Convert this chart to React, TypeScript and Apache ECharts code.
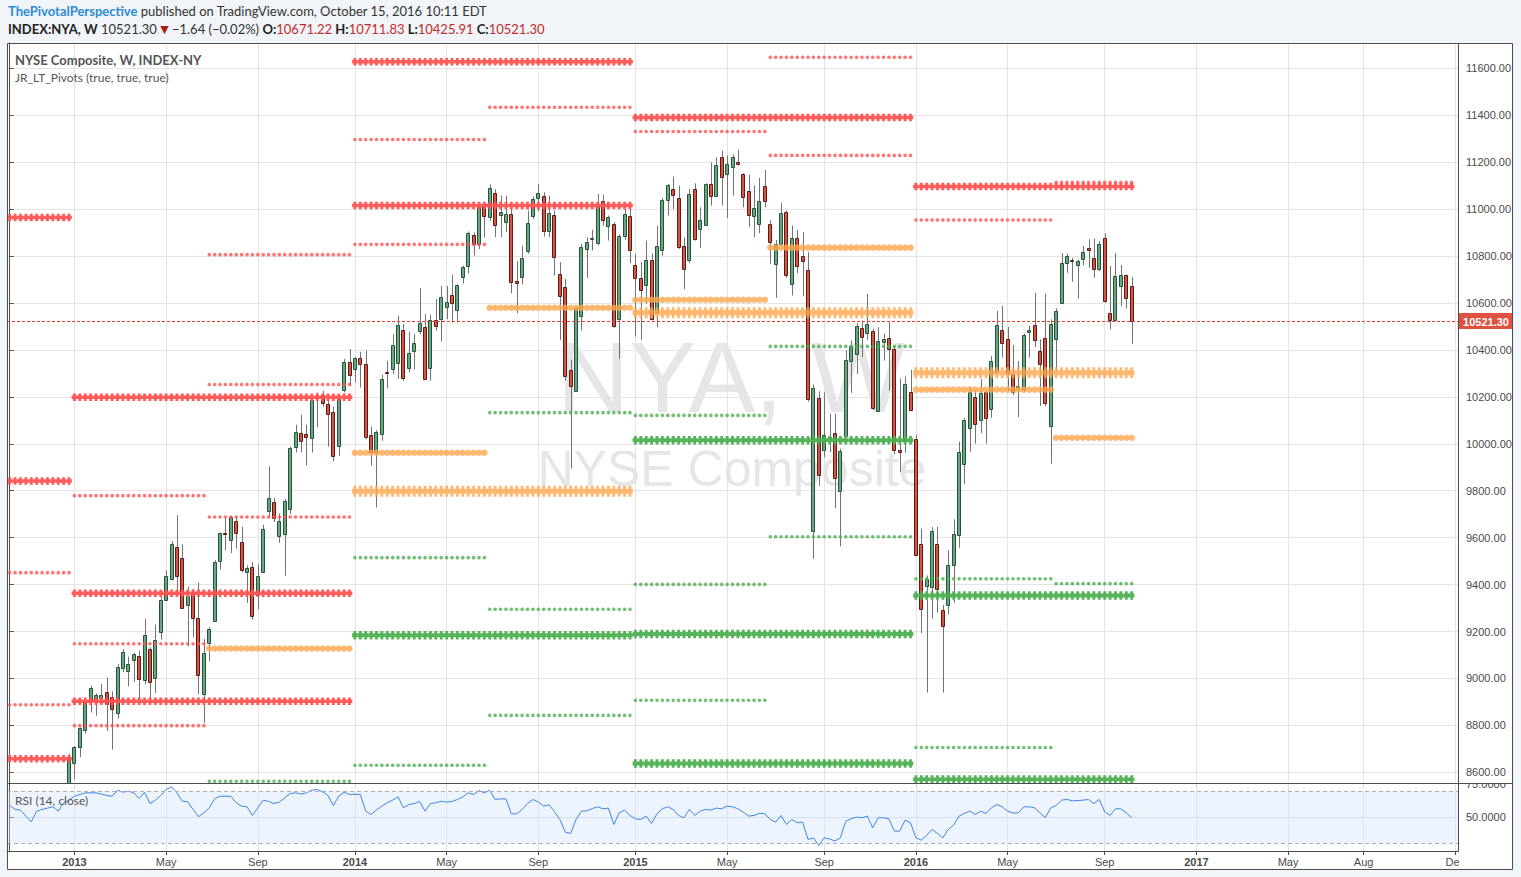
import React, { useEffect, useRef } from 'react';
import * as echarts from 'echarts';

// ---------- data ----------
const START_WEEK = '2012-10-15';
const WEEK_COUNT = 269;
const CANDLE_START = '2012-12-31';
// weekly [open, high, low, close]
const CANDLES: number[][] = [
  [8443, 8680, 8420, 8665], [8640, 8712, 8570, 8708], [8709, 8791, 8665, 8788], [8779, 8905, 8765, 8899],
  [8906, 8969, 8855, 8959], [8903, 8936, 8841, 8929], [8916, 8976, 8898, 8929], [8942, 9003, 8776, 8891],
  [8920, 8945, 8697, 8868], [8852, 9062, 8829, 9049], [9044, 9126, 9026, 9113], [9034, 9093, 8966, 9062],
  [9079, 9109, 8986, 9104], [9096, 9119, 8905, 8997], [8993, 9255, 8975, 9186], [9126, 9133, 8888, 8987],
  [9000, 9230, 8938, 9164], [9198, 9367, 9166, 9335], [9335, 9461, 9330, 9438], [9425, 9585, 9418, 9575],
  [9562, 9696, 9375, 9436], [9515, 9572, 9297, 9301], [9312, 9392, 9137, 9352], [9370, 9382, 9176, 9258],
  [9258, 9409, 8933, 9015], [8933, 9168, 8811, 9109], [9150, 9218, 9073, 9211], [9245, 9504, 9240, 9498],
  [9502, 9622, 9464, 9618], [9622, 9682, 9546, 9618], [9592, 9692, 9535, 9686], [9669, 9689, 9553, 9622],
  [9583, 9646, 9452, 9464], [9452, 9482, 9322, 9472], [9476, 9496, 9250, 9267], [9357, 9486, 9295, 9438],
  [9455, 9655, 9452, 9635], [9714, 9904, 9689, 9767], [9754, 9770, 9667, 9682], [9609, 9703, 9578, 9673],
  [9616, 9765, 9438, 9757], [9722, 9988, 9701, 9982], [9985, 10081, 9963, 10050], [10046, 10124, 9963, 10010],
  [10041, 10081, 9907, 10027], [10023, 10195, 9963, 10186], [10195, 10219, 10070, 10201], [10209, 10226, 10158, 10176],
  [10169, 10191, 9988, 10127], [10137, 10158, 9925, 9949], [9992, 10212, 9949, 10191], [10229, 10361, 10219, 10348],
  [10348, 10404, 10247, 10293], [10318, 10371, 10262, 10365], [10365, 10392, 10240, 10340], [10340, 10397, 10020, 10027],
  [10037, 10073, 9907, 9963], [9963, 10058, 9729, 10050], [10041, 10294, 10013, 10276], [10306, 10354, 10236, 10300],
  [10318, 10467, 10297, 10421], [10343, 10546, 10276, 10506], [10484, 10510, 10269, 10279], [10321, 10477, 10304, 10386],
  [10395, 10467, 10318, 10429], [10480, 10663, 10467, 10513], [10499, 10553, 10272, 10276], [10325, 10550, 10269, 10527],
  [10527, 10617, 10482, 10500], [10531, 10673, 10436, 10624], [10581, 10673, 10531, 10604], [10634, 10720, 10517, 10598],
  [10570, 10680, 10517, 10676], [10709, 10759, 10683, 10752], [10756, 10905, 10726, 10898], [10889, 10901, 10801, 10851],
  [10851, 11018, 10830, 11011], [11014, 11021, 10879, 10969], [10966, 11106, 10950, 11090], [11070, 11085, 10881, 10934],
  [10977, 11058, 10880, 10987], [10944, 11058, 10902, 10980], [10980, 11008, 10642, 10689], [10692, 10778, 10557, 10685],
  [10710, 10845, 10679, 10792], [10821, 10994, 10810, 10942], [10970, 11054, 10959, 11044], [11047, 11108, 10991, 11069],
  [11055, 11072, 10883, 10906], [10906, 11058, 10880, 10984], [10976, 10994, 10717, 10795], [10724, 10774, 10443, 10631],
  [10670, 10703, 10270, 10291], [10315, 10358, 9894, 10246], [10227, 10585, 10225, 10580], [10545, 10852, 10483, 10839],
  [10831, 10880, 10707, 10861], [10872, 10912, 10824, 10878], [10856, 11065, 10845, 11022], [11034, 11062, 10929, 10952],
  [10930, 10973, 10866, 10966], [10937, 10944, 10494, 10500], [10533, 10892, 10362, 10885], [10885, 11008, 10869, 10980],
  [10970, 11001, 10770, 10827], [10763, 10810, 10457, 10707], [10707, 10774, 10443, 10656], [10677, 10866, 10597, 10784],
  [10784, 10812, 10526, 10533], [10561, 10930, 10497, 10842], [10827, 11048, 10802, 11040], [11040, 11108, 10973, 11103],
  [11086, 11139, 11001, 11061], [11048, 11101, 10831, 10838], [10844, 10880, 10659, 10746], [10784, 11086, 10770, 11065],
  [11086, 11110, 10866, 10873], [10916, 11008, 10835, 10952], [10933, 11110, 10929, 11108], [11108, 11199, 11015, 11057],
  [11057, 11221, 11051, 11190], [11224, 11250, 11015, 11139], [11150, 11228, 10963, 11193], [11179, 11233, 11058, 11224],
  [11200, 11253, 11186, 11193], [11150, 11153, 11008, 11051], [11079, 11147, 10923, 10974], [10971, 11101, 10880, 11005],
  [10937, 11133, 10898, 11034], [11099, 11167, 11008, 11034], [10937, 10952, 10767, 10859], [10767, 10869, 10622, 10852],
  [10852, 11028, 10844, 10984], [10988, 10994, 10707, 10720], [10682, 10930, 10632, 10878], [10878, 10912, 10727, 10758],
  [10801, 10902, 10629, 10778], [10741, 10817, 10180, 10192], [9628, 10253, 9510, 10239], [10196, 10224, 9821, 9868],
  [9972, 10220, 9943, 10037], [10023, 10128, 9965, 10031], [10047, 10128, 9726, 9855], [9798, 9979, 9563, 9970],
  [10033, 10398, 10031, 10359], [10352, 10440, 10217, 10418], [10383, 10514, 10298, 10503], [10494, 10525, 10369, 10455],
  [10474, 10639, 10443, 10511], [10480, 10490, 10145, 10153], [10139, 10497, 10139, 10437], [10432, 10469, 10355, 10447],
  [10450, 10521, 10227, 10405], [10405, 10412, 9955, 9975], [9975, 10277, 9879, 9965], [10011, 10287, 9962, 10256],
  [10220, 10315, 10139, 10142], [10019, 10038, 9520, 9527], [9574, 9638, 9194, 9297], [9392, 9439, 8940, 9424],
  [9389, 9645, 9255, 9628], [9572, 9646, 9281, 9383], [9291, 9313, 8940, 9222], [9312, 9546, 9273, 9482],
  [9482, 9678, 9323, 9614], [9610, 10009, 9557, 9965], [9915, 10111, 9827, 10100], [10066, 10242, 9966, 10219],
  [10199, 10228, 10001, 10083], [10100, 10276, 10047, 10216], [10219, 10228, 10001, 10111], [10147, 10374, 10111, 10353],
  [10307, 10566, 10303, 10505], [10483, 10587, 10367, 10431], [10445, 10498, 10225, 10303], [10296, 10421, 10208, 10222],
  [10236, 10353, 10114, 10246], [10232, 10469, 10218, 10462], [10475, 10502, 10367, 10485], [10505, 10644, 10412, 10441],
  [10395, 10445, 10161, 10341], [10449, 10640, 10161, 10175], [10077, 10530, 9915, 10509], [10445, 10577, 10307, 10566],
  [10598, 10813, 10597, 10769], [10769, 10810, 10729, 10799], [10783, 10793, 10691, 10780], [10764, 10786, 10618, 10777],
  [10786, 10843, 10760, 10816], [10833, 10871, 10750, 10824], [10790, 10875, 10708, 10743], [10747, 10864, 10736, 10850],
  [10875, 10897, 10601, 10608], [10556, 10757, 10488, 10526], [10526, 10814, 10523, 10713], [10671, 10762, 10587, 10718],
  [10718, 10722, 10577, 10620], [10671.22, 10711.83, 10425.91, 10521.3],
];
// RSI(14, close), one value per week from START_WEEK
const RSI: number[] = [
  58.9, 55.9, 55.4, 50.8, 46.4, 54.6, 55.9, 56.9, 57.9, 54.6, 61, 63, 66, 67.3, 68.6, 68.6, 68.6, 67.6, 66.6, 66,
  70.6, 69.1, 69.9, 68.6, 64.3, 69.1, 60.4, 63, 66.6, 71.1, 73.2, 68.6, 62.2, 61.7, 55.9, 50.3, 53.3, 57.1, 64, 66,
  66, 66, 61, 58.4, 57.9, 51.3, 57.1, 63, 62, 60.4, 61.5, 64.8, 68.1, 68.6, 67.6, 68.6, 70.6, 71.1, 69.4, 66.6,
  58.9, 66, 69.1, 67.3, 67.6, 67.2, 54.6, 52, 55.5, 58.5, 61, 63, 65.5, 57.1, 59.7, 60.4, 62, 54.6, 60.4, 61,
  62.2, 61.5, 62, 63.5, 65.5, 68.6, 67.3, 70.4, 68.6, 70.6, 63.5, 64, 64, 52.5, 52.5, 55.9, 60.4, 63.5, 61.5, 58.4,
  59.4, 54.1, 48.2, 38.5, 37.5, 48.2, 54.6, 54.8, 56.6, 57.9, 56.4, 56.9, 44.4, 53.3, 55.4, 51.3, 48.7, 48.2, 50.8, 45.2,
  52.5, 56.4, 57.9, 55.9, 51.3, 49.5, 55.9, 51.3, 54.6, 55.9, 55.4, 56.9, 56.4, 58.4, 57.9, 56.4, 53.8, 50.8, 51.3, 53,
  52.5, 48.2, 46.2, 51.3, 44.4, 48.2, 45.7, 46.2, 32.9, 34.2, 28.3, 34.2, 33.4, 31.7, 34.2, 46.9, 48.7, 50, 49.5, 50.8,
  41.8, 49.5, 49.5, 48.7, 39.3, 39.3, 47.7, 45.7, 34.2, 32.4, 36, 40.6, 37.5, 34.2, 40.6, 43.9, 50.8, 52.8, 54.6, 52,
  54.6, 52.8, 57.1, 59.7, 57.9, 54.6, 53.1, 53.3, 57.9, 57.9, 57.1, 53.3, 49.7, 57.1, 58.9, 63, 63.5, 62.5, 62.7, 63,
  63.5, 60.4, 63.5, 54.1, 51.3, 56.4, 56.4, 53.3, 49.5,
];
const PRICE_TICKS = [8600, 8800, 9000, 9200, 9400, 9600, 9800, 10000, 10200, 10400, 10600, 10800, 11000, 11200, 11400, 11600];
const RSI_TICKS = [50, 75];
const TIME_TICKS: [string, string][] = [
  ['2013-01-07', '2013'], ['2013-05-06', 'May'], ['2013-09-02', 'Sep'],
  ['2014-01-06', '2014'], ['2014-05-05', 'May'], ['2014-09-01', 'Sep'],
  ['2015-01-05', '2015'], ['2015-05-04', 'May'], ['2015-09-07', 'Sep'],
  ['2016-01-04', '2016'], ['2016-05-02', 'May'], ['2016-09-05', 'Sep'],
  ['2017-01-02', '2017'], ['2017-05-01', 'May'], ['2017-08-07', 'Aug'], ['2017-12-04', 'Dec'],
];
const LAST_PRICE = 10521.3;
const PERIODS: Record<string, [string, string]> = {
  '2012': ['2012-10-15', '2012-12-31'], '2013': ['2013-01-07', '2013-12-30'], '2014': ['2014-01-06', '2014-12-29'],
  '2015': ['2015-01-05', '2015-12-28'], '2016': ['2016-01-04', '2016-10-10'],
  '2012H2': ['2012-10-15', '2012-12-31'], '2013H1': ['2013-01-07', '2013-06-24'], '2013H2': ['2013-07-01', '2013-12-30'],
  '2014H1': ['2014-01-06', '2014-06-23'], '2014H2': ['2014-06-30', '2014-12-29'],
  '2015H1': ['2015-01-05', '2015-06-22'], '2015H2': ['2015-06-29', '2015-12-28'],
  '2016H1': ['2016-01-04', '2016-06-27'], '2016H2': ['2016-07-04', '2016-10-10'],
};
const YEARLY_PIVOTS: [string, string, number][] = [
  ['2012', 'R', 10964], ['2012', 'R', 9841], ['2012', 'R', 8658],
  ['2013', 'R', 10198], ['2013', 'R', 9363], ['2013', 'R', 8903],
  ['2014', 'R', 11628], ['2014', 'R', 11016], ['2014', 'P', 9798], ['2014', 'S', 9184],
  ['2015', 'R', 11391], ['2015', 'P', 10559], ['2015', 'S', 10015], ['2015', 'S', 9190], ['2015', 'S', 8638],
  ['2016', 'R', 11097], ['2016', 'P', 10303], ['2016', 'S', 9354], ['2016', 'S', 8570],
];
const HALF_PIVOTS: [string, string, number][] = [
  ['2012H2', 'R', 9451], ['2012H2', 'R', 8888],
  ['2013H1', 'R', 9779], ['2013H1', 'R', 9148], ['2013H1', 'R', 8799],
  ['2013H2', 'R', 10806], ['2013H2', 'R', 10253], ['2013H2', 'R', 9688], ['2013H2', 'P', 9128], ['2013H2', 'S', 8562],
  ['2014H1', 'R', 11297], ['2014H1', 'R', 10850], ['2014H1', 'P', 9962], ['2014H1', 'S', 9515], ['2014H1', 'S', 8630],
  ['2014H2', 'R', 11434], ['2014H2', 'P', 10580], ['2014H2', 'S', 10133], ['2014H2', 'S', 9295], ['2014H2', 'S', 8843],
  ['2015H1', 'R', 11331], ['2015H1', 'P', 10614], ['2015H1', 'S', 10121], ['2015H1', 'S', 9401], ['2015H1', 'S', 8907],
  ['2015H2', 'R', 11647], ['2015H2', 'R', 11229], ['2015H2', 'P', 10836], ['2015H2', 'S', 10415], ['2015H2', 'S', 9604],
  ['2016H1', 'R', 10954], ['2016H1', 'P', 10231], ['2016H1', 'S', 9425], ['2016H1', 'S', 8706],
  ['2016H2', 'R', 11114], ['2016H2', 'P', 10026], ['2016H2', 'S', 9404],
];

// ---------- helpers ----------
const WEEK_MS = 7 * 864e5;
const T0 = Date.parse(START_WEEK + 'T00:00:00Z');
const idxOf = (d: string) => Math.round((Date.parse(d + 'T00:00:00Z') - T0) / WEEK_MS);

const pivotPoints = (list: [string, string, number][], type: string) => {
  const pts: number[][] = [];
  list.filter((p) => p[1] === type).forEach(([per, , v]) => {
    const [a, b] = PERIODS[per];
    for (let i = idxOf(a); i <= idxOf(b); i++) pts.push([i, v]);
  });
  return pts;
};

const CROSS = 'path://M0,4L3,4L3,0L9,0L9,4L12,4L12,11L9,11L9,15L3,15L3,11L0,11Z';
const RED = '#ff5252';
const ORANGE = '#ffa64d';
const GREEN = '#4caf50';
const AX = '#4d4d4d';
const LBL = '#4a4a4a';
const AXFONT = 'Liberation Sans, Arial, sans-serif';
const UIFONT = 'Lato, Open Sans, sans-serif';

export default function App() {
  const ref = useRef<HTMLDivElement>(null);
  useEffect(() => {
    document.body.style.margin = '0';
    const chart = echarts.init(ref.current!, undefined, { renderer: 'svg' });
    const off = idxOf(CANDLE_START);
    const candleData = CANDLES.map((c, i) => [i + off, c[0], c[1], c[2], c[3]]);
    const tickIdx = TIME_TICKS.map((t) => idxOf(t[0]));
    const tickLabel: Record<number, string> = {};
    TIME_TICKS.forEach((t) => { tickLabel[idxOf(t[0])] = t[1]; });
    const xMin = -0.5, xMax = WEEK_COUNT - 0.5;

    const option: any = {
      animation: false,
      backgroundColor: '#f1f4f8',
      grid: [
        { left: 7, top: 43, width: 1451, height: 740 },
        { left: 7, top: 784, width: 1451, height: 67 },
      ],
      xAxis: [
        {
          type: 'value', gridIndex: 0, min: xMin, max: xMax,
          axisLine: { show: false }, axisTick: { show: false, customValues: tickIdx },
          axisLabel: { show: false, customValues: tickIdx },
          splitLine: { show: true, lineStyle: { color: '#e4e4e4', width: 1 } },
        },
        {
          type: 'value', gridIndex: 1, min: xMin, max: xMax,
          axisLine: { show: true, lineStyle: { color: AX, width: 1 } },
          axisTick: { show: true, length: 4, customValues: tickIdx, lineStyle: { color: AX } },
          axisLabel: {
            show: true, customValues: tickIdx, margin: 5, color: LBL, fontSize: 11, fontFamily: AXFONT,
            formatter: (v: number) => {
              const t = tickLabel[Math.round(v)] || '';
              return /^\d{4}$/.test(t) ? `{y|${t}}` : t;
            },
            rich: { y: { fontWeight: 'bold', fontSize: 11, fontFamily: AXFONT, color: LBL } },
          },
          splitLine: { show: true, lineStyle: { color: '#dde3ee', width: 1 } },
        },
      ],
      yAxis: [
        {
          type: 'value', gridIndex: 0, position: 'right', min: 8554.6, max: 11708,
          axisLine: { show: true, lineStyle: { color: AX } },
          axisTick: { show: true, length: 4, customValues: PRICE_TICKS, lineStyle: { color: AX } },
          axisLabel: {
            show: true, customValues: PRICE_TICKS, margin: 8, color: LBL, fontSize: 11, fontFamily: AXFONT,
            formatter: (v: number) => v.toFixed(2),
          },
          splitLine: { show: true, lineStyle: { color: '#e4e4e4', width: 1 } },
        },
        {
          type: 'value', gridIndex: 1, position: 'right', min: 24.1, max: 75.35,
          axisLine: { show: true, lineStyle: { color: AX } },
          axisTick: { show: true, length: 4, customValues: [50], lineStyle: { color: AX } },
          axisLabel: {
            show: true, customValues: RSI_TICKS, margin: 8, color: LBL, fontSize: 11, fontFamily: AXFONT,
            formatter: (v: number) => v.toFixed(4),
          },
          splitLine: { show: true, lineStyle: { color: '#d3d9e6', width: 1 } },
        },
      ],
      series: [
        {
          type: 'custom', xAxisIndex: 0, yAxisIndex: 0, clip: true, z: 2, silent: true,
          data: candleData,
          encode: { x: 0, y: [1, 2, 3, 4] },
          renderItem: (_p: any, api: any) => {
            const i = api.value(0);
            const o = api.value(1), h = api.value(2), l = api.value(3), c = api.value(4);
            const x = api.coord([i, o])[0];
            const yo = api.coord([i, o])[1], yh = api.coord([i, h])[1];
            const yl = api.coord([i, l])[1], yc = api.coord([i, c])[1];
            const up = c >= o;
            const cx = Math.round(x) + 0.5;
            const top = Math.round(Math.min(yo, yc)) + 0.5;
            const bot = Math.round(Math.max(yo, yc)) + 0.5;
            return {
              type: 'group',
              children: [
                { type: 'line', shape: { x1: cx, y1: yh, x2: cx, y2: yl }, style: { stroke: '#737375', lineWidth: 1 } },
                {
                  type: 'rect', shape: { x: cx - 2, y: top, width: 3, height: Math.max(bot - top, 1) },
                  style: { fill: up ? '#6ba583' : '#d75442', stroke: up ? '#225437' : '#5b1a13', lineWidth: 1 },
                },
              ],
            };
          },
        },
        {
          type: 'scatter', name: 'yR', xAxisIndex: 0, yAxisIndex: 0, z: 3, silent: true,
          symbol: CROSS, symbolSize: [5.6, 7.5], itemStyle: { color: RED, opacity: 0.95 },
          data: pivotPoints(YEARLY_PIVOTS, 'R'),
        },
        {
          type: 'scatter', name: 'yP', xAxisIndex: 0, yAxisIndex: 0, z: 3, silent: true,
          symbol: CROSS, symbolSize: [5.6, 11], itemStyle: { color: ORANGE, opacity: 0.8 },
          data: pivotPoints(YEARLY_PIVOTS, 'P'),
        },
        {
          type: 'scatter', name: 'yS', xAxisIndex: 0, yAxisIndex: 0, z: 3, silent: true,
          symbol: CROSS, symbolSize: [5.6, 8.5], itemStyle: { color: GREEN, opacity: 0.95 },
          data: pivotPoints(YEARLY_PIVOTS, 'S'),
        },
        {
          type: 'scatter', name: 'hP', xAxisIndex: 0, yAxisIndex: 0, z: 3, silent: true,
          symbol: 'circle', symbolSize: 6.5, itemStyle: { color: ORANGE, opacity: 0.8 },
          data: pivotPoints(HALF_PIVOTS, 'P'),
        },
        {
          type: 'scatter', name: 'hS', xAxisIndex: 0, yAxisIndex: 0, z: 3, silent: true,
          symbol: 'circle', symbolSize: 3.6, itemStyle: { color: GREEN },
          data: pivotPoints(HALF_PIVOTS, 'S'),
        },
        {
          type: 'scatter', name: 'hR', xAxisIndex: 0, yAxisIndex: 0, z: 3, silent: true,
          symbol: 'circle', symbolSize: 3.6, itemStyle: { color: RED },
          data: pivotPoints(HALF_PIVOTS, 'R'),
        },
        {
          // last-price line and its axis tag, positioned through the price scale
          type: 'custom', name: 'last', xAxisIndex: 0, yAxisIndex: 0, clip: false, z: 5, silent: true,
          data: [[xMax, LAST_PRICE]],
          encode: { x: 0, y: 1 },
          renderItem: (params: any, api: any) => {
            const cs = params.coordSys;
            const y = Math.round(api.coord([api.value(0), api.value(1)])[1]) + 0.5;
            const right = cs.x + cs.width;
            return {
              type: 'group',
              children: [
                {
                  type: 'line', shape: { x1: cs.x, y1: y, x2: right, y2: y },
                  style: { stroke: '#ef3b2c', lineWidth: 1, lineDash: [3, 2] },
                },
                {
                  type: 'rect', shape: { x: right + 1, y: y - 8.5, width: 54, height: 16 },
                  style: { fill: '#df5140' },
                },
                {
                  type: 'text', x: right + 28, y: y,
                  style: {
                    text: LAST_PRICE.toFixed(2), fill: '#ffffff', fontSize: 11, fontWeight: 'bold',
                    fontFamily: AXFONT, align: 'center', verticalAlign: 'middle',
                  },
                },
              ],
            };
          },
        },
        {
          type: 'line', name: 'RSI', xAxisIndex: 1, yAxisIndex: 1, z: 3, silent: true,
          symbol: 'none', lineStyle: { color: '#3f86e6', width: 1 },
          data: RSI.map((v, i) => [i, v]),
          markArea: {
            silent: true, itemStyle: { color: 'rgba(214,228,250,0.42)' },
            data: [[{ yAxis: 30 }, { yAxis: 70 }]],
          },
          markLine: {
            silent: true, symbol: ['none', 'none'], label: { show: false },
            lineStyle: { color: '#a8b0c0', width: 1, type: [4, 3] },
            data: [{ yAxis: 70 }, { yAxis: 30 }],
          },
        },
      ],
      graphic: [
        { type: 'rect', z: -10, shape: { x: 7, y: 43, width: 1506, height: 827 }, style: { fill: '#ffffff' } },
        {
          type: 'text', z: -5, x: 731, y: 377,
          style: { text: 'NYA, W', fontSize: 100, fontFamily: AXFONT, fill: '#e6e6e6', align: 'center', verticalAlign: 'middle' },
        },
        {
          type: 'text', z: -5, x: 732, y: 469,
          style: { text: 'NYSE Composite', fontSize: 50, fontFamily: AXFONT, fill: '#e6e6e6', align: 'center', verticalAlign: 'middle' },
        },
        {
          type: 'text', z: 60, x: 8, y: 11,
          style: {
            text: '{a|ThePivotalPerspective}{b| published on TradingView.com, October 15, 2016 10:11 EDT}',
            verticalAlign: 'middle',
            rich: {
              a: { fill: '#2e8bd6', color: '#2e8bd6', fontSize: 13, fontFamily: UIFONT, fontWeight: 'bold' },
              b: { fill: '#333', color: '#333', fontSize: 13, fontFamily: UIFONT },
            },
          },
        },
        {
          type: 'text', z: 60, x: 8, y: 29,
          style: {
            text: '{k|INDEX:NYA, W}{n| 10521.30 }{t|\u25BC}{n| \u22121.64 (\u22120.02%) }{k|O:}{r|10671.22}{k| H:}{r|10711.83}{k| L:}{r|10425.91}{k| C:}{r|10521.30}',
            verticalAlign: 'middle',
            rich: {
              k: { fill: '#222', color: '#222', fontSize: 13, fontFamily: UIFONT, fontWeight: 'bold' },
              n: { fill: '#333', color: '#333', fontSize: 13, fontFamily: UIFONT },
              t: { fill: '#a51d1d', color: '#a51d1d', fontSize: 11, fontFamily: 'DejaVu Sans' },
              r: { fill: '#c42b2b', color: '#c42b2b', fontSize: 13, fontFamily: UIFONT },
            },
          },
        },
        {
          type: 'text', z: 60, x: 15, y: 60,
          style: { text: 'NYSE Composite, W, INDEX-NY', fontSize: 13, fontWeight: 'bold', fontFamily: UIFONT, fill: '#555', verticalAlign: 'middle' },
        },
        {
          type: 'text', z: 60, x: 15, y: 77,
          style: { text: 'JR_LT_Pivots (true, true, true)', fontSize: 12, fontFamily: UIFONT, fill: '#555', verticalAlign: 'middle' },
        },
        {
          type: 'text', z: 60, x: 15, y: 800,
          style: { text: 'RSI (14, close)', fontSize: 12, fontFamily: UIFONT, fill: '#555', verticalAlign: 'middle' },
        },
        // covers clipping axis labels at pane edges
        { type: 'rect', z: 50, shape: { x: 1459, y: 778, width: 53, height: 5.5 }, style: { fill: '#ffffff' } },
        { type: 'rect', z: 50, shape: { x: 1459, y: 852, width: 53, height: 17.5 }, style: { fill: '#ffffff' } },
        // frame lines
        { type: 'rect', z: 70, shape: { x: 7.5, y: 43.5, width: 1505, height: 826 }, style: { fill: 'none', stroke: AX, lineWidth: 1 } },
        { type: 'line', z: 70, shape: { x1: 7, y1: 783.5, x2: 1513, y2: 783.5 }, style: { stroke: AX, lineWidth: 1 } },
        { type: 'line', z: 70, shape: { x1: 7, y1: 851.5, x2: 1458.5, y2: 851.5 }, style: { stroke: AX, lineWidth: 1 } },
        { type: 'line', z: 70, shape: { x1: 1458.5, y1: 43, x2: 1458.5, y2: 851.5 }, style: { stroke: AX, lineWidth: 1 } },
      ],
    };
    chart.setOption(option);
    return () => chart.dispose();
  }, []);
  return <div ref={ref} style={{ width: 1521, height: 877, position: 'absolute', left: 0, top: 0 }} />;
}
